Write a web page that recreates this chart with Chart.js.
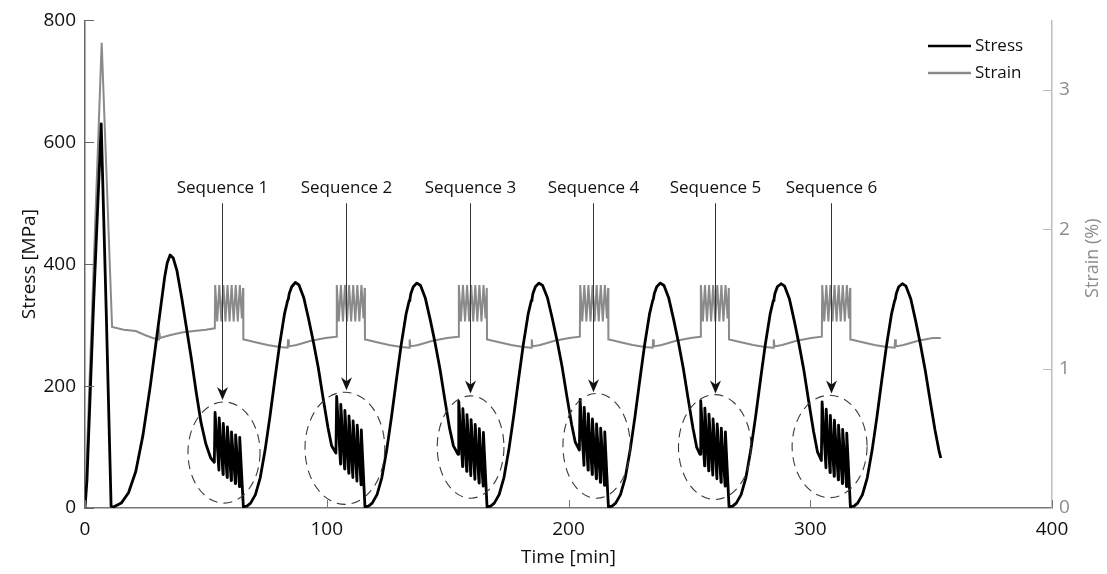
<!DOCTYPE html>
<html>
<head>
<meta charset="utf-8">
<title>Stress and strain vs time</title>
<script src="https://cdn.jsdelivr.net/npm/chart.js@4.4.1/dist/chart.umd.min.js"></script>
<style>
  html, body { margin: 0; padding: 0; background: #fff; }
  #wrap { width: 1107px; height: 574px; }
</style>
</head>
<body>
<div id="wrap"><canvas id="stressChart" width="1107" height="574"></canvas></div>
<script>
// ---- data: [time (min), value] ----
const stressPoints = [
    // first loading spike
    [0, 0], [0.8, 45], [3.5, 330], [6.7, 630], [8.8, 320], [10.8, 3],
    // cycle before sequence 1
    [12, 2], [15, 8], [18, 25], [21, 60], [24, 120], [27, 200], [30, 290], [32, 350], [33, 380], [34, 402], [35.2, 415],
    [36.5, 410], [38, 390], [40, 345], [42, 295], [44, 245], [46, 190], [48, 140], [50, 105], [52, 82], [53.5, 75],
    // sequence 1
    [53.8, 157], [55.4, 62], [55.5, 148], [57.1, 55], [57.2, 139], [58.8, 50], [58.9, 133], [60.5, 45], [60.6, 125],
    [62.2, 40], [62.3, 120], [63.9, 35], [64.0, 116], [65.5, 2],
    [67, 3], [68.5, 8], [70.5, 22], [72.5, 50], [74.5, 95], [76.5, 150], [78.5, 210], [80.5, 268], [82.5, 318], [83.8, 340],
    [84.1, 343], [84.5, 352], [85.5, 363], [87, 370], [88.5, 366], [90.5, 345], [92.5, 310], [94.5, 272], [96.5, 230],
    [98.5, 180], [100.5, 132], [102, 102], [103.8, 90],
    // sequence 2
    [104.1, 183], [105.7, 72], [105.8, 170], [107.4, 64], [107.5, 160], [109.1, 57], [109.2, 151], [110.8, 50], [110.9, 143],
    [112.5, 44], [112.6, 136], [114.2, 38], [114.3, 128], [115.8, 2],
    [117.3, 3], [118.8, 8], [120.8, 22], [122.8, 50], [124.8, 95], [126.8, 150], [128.8, 210], [130.8, 268], [132.8, 318],
    [134.1, 340], [134.4, 343], [134.8, 352], [135.8, 363], [137.3, 369], [138.8, 365], [140.8, 344], [142.8, 309],
    [144.8, 271], [146.8, 229], [148.8, 179], [150.8, 131], [152.4, 102], [154.3, 88],
    // sequence 3
    [154.6, 175], [156.2, 68], [156.3, 163], [157.9, 60], [158.0, 153], [159.6, 53], [159.7, 145], [161.3, 47], [161.4, 137],
    [163.0, 41], [163.1, 130], [164.7, 36], [164.8, 124], [166.3, 2],
    [167.8, 3], [169.3, 8], [171.3, 22], [173.3, 50], [175.3, 95], [177.3, 150], [179.3, 210], [181.3, 268], [183.3, 318],
    [184.6, 340], [184.9, 343], [185.3, 352], [186.3, 363], [187.8, 369], [189.3, 365], [191.3, 345], [193.3, 311],
    [195.3, 274], [197.3, 233], [199.3, 184], [201.3, 137], [202.8, 108], [204.5, 95],
    // sequence 4
    [204.8, 178], [206.4, 70], [206.5, 165], [208.1, 62], [208.2, 155], [209.8, 55], [209.9, 146], [211.5, 48], [211.6, 138],
    [213.2, 42], [213.3, 131], [214.9, 37], [215.0, 125], [216.5, 2],
    [218, 3], [219.5, 8], [221.5, 22], [223.5, 50], [225.5, 95], [227.5, 150], [229.5, 210], [231.5, 268], [233.5, 318],
    [234.8, 340], [235.1, 343], [235.5, 352], [236.5, 363], [238, 369], [239.5, 365], [241.5, 344], [243.5, 309],
    [245.5, 271], [247.5, 229], [249.5, 179], [251.5, 131], [253, 100], [254.4, 88],
    // sequence 5
    [254.7, 176], [256.3, 69], [256.4, 164], [258.0, 61], [258.1, 154], [259.7, 54], [259.8, 146], [261.4, 48], [261.5, 138],
    [263.1, 42], [263.2, 131], [264.8, 36], [264.9, 125], [266.4, 2],
    [267.9, 3], [269.4, 8], [271.4, 22], [273.4, 50], [275.4, 95], [277.4, 150], [279.4, 210], [281.4, 268], [283.4, 318],
    [284.7, 340], [285, 343], [285.4, 352], [286.4, 363], [287.9, 368], [289.4, 364], [291.4, 343], [293.4, 307],
    [295.4, 268], [297.4, 225], [299.4, 174], [301.4, 125], [303, 92], [304.6, 78],
    // sequence 6
    [304.9, 174], [306.5, 66], [306.6, 162], [308.2, 58], [308.3, 152], [309.9, 52], [310.0, 144], [311.6, 46], [311.7, 136],
    [313.3, 40], [313.4, 129], [315.0, 35], [315.1, 123], [316.6, 2],
    [318.1, 3], [319.6, 8], [321.6, 22], [323.6, 50], [325.6, 95], [327.6, 150], [329.6, 210], [331.6, 268], [333.6, 318],
    [334.9, 340], [335.2, 343], [335.6, 352], [336.6, 363], [338.1, 368], [339.6, 364], [341.6, 343], [343.6, 307],
    [345.6, 268], [347.6, 225], [349.6, 176], [351.6, 128], [353.2, 95], [354, 82]
];

const strainPoints = [
    [0, 0], [6.9, 3.34], [11.2, 1.3], [16, 1.28], [21, 1.27], [25, 1.24], [28, 1.22], [30.6, 1.21], [30.8, 1.25], [31.1, 1.22],
    [35, 1.24], [40, 1.26], [45, 1.27], [50, 1.28], [53.7, 1.29],
    [53.85, 1.6], [54.7, 1.34], [55.55, 1.6], [56.4, 1.34], [57.25, 1.6], [58.1, 1.34], [58.95, 1.6], [59.8, 1.34],
    [60.65, 1.6], [61.5, 1.34], [62.35, 1.6], [63.2, 1.34], [64.05, 1.6], [64.9, 1.36], [65.4, 1.58], [65.5, 1.21],
    [65.8, 1.21], [70.5, 1.19], [75.5, 1.17], [80.5, 1.155], [83.8, 1.15], [84.0, 1.21], [84.3, 1.16], [87.5, 1.17],
    [93.5, 1.2], [99.5, 1.22], [104.0, 1.23],
    [104.15, 1.6], [105.0, 1.34], [105.85, 1.6], [106.7, 1.34], [107.55, 1.6], [108.4, 1.34], [109.25, 1.6], [110.1, 1.34],
    [110.95, 1.6], [111.8, 1.34], [112.65, 1.6], [113.5, 1.34], [114.35, 1.6], [115.2, 1.36], [115.7, 1.58], [115.8, 1.21],
    [116.1, 1.21], [120.8, 1.19], [125.8, 1.17], [130.8, 1.155], [134.1, 1.15], [134.3, 1.21], [134.6, 1.16], [137.8, 1.17],
    [143.8, 1.2], [149.8, 1.22], [154.5, 1.23],
    [154.65, 1.6], [155.5, 1.34], [156.35, 1.6], [157.2, 1.34], [158.05, 1.6], [158.9, 1.34], [159.75, 1.6], [160.6, 1.34],
    [161.45, 1.6], [162.3, 1.34], [163.15, 1.6], [164.0, 1.34], [164.85, 1.6], [165.7, 1.36], [166.2, 1.58], [166.3, 1.21],
    [166.6, 1.21], [171.3, 1.19], [176.3, 1.17], [181.3, 1.155], [184.6, 1.15], [184.8, 1.21], [185.1, 1.16], [188.3, 1.17],
    [194.3, 1.2], [200.3, 1.22], [204.7, 1.23],
    [204.85, 1.6], [205.7, 1.34], [206.55, 1.6], [207.4, 1.34], [208.25, 1.6], [209.1, 1.34], [209.95, 1.6], [210.8, 1.34],
    [211.65, 1.6], [212.5, 1.34], [213.35, 1.6], [214.2, 1.34], [215.05, 1.6], [215.9, 1.36], [216.4, 1.58], [216.5, 1.21],
    [216.8, 1.21], [221.5, 1.19], [226.5, 1.17], [231.5, 1.155], [234.8, 1.15], [235.0, 1.21], [235.3, 1.16], [238.5, 1.17],
    [244.5, 1.2], [250.5, 1.22], [254.6, 1.23],
    [254.75, 1.6], [255.6, 1.34], [256.45, 1.6], [257.3, 1.34], [258.15, 1.6], [259.0, 1.34], [259.85, 1.6], [260.7, 1.34],
    [261.55, 1.6], [262.4, 1.34], [263.25, 1.6], [264.1, 1.34], [264.95, 1.6], [265.8, 1.36], [266.3, 1.58], [266.4, 1.21],
    [266.7, 1.21], [271.4, 1.19], [276.4, 1.17], [281.4, 1.155], [284.7, 1.15], [284.9, 1.21], [285.2, 1.16], [288.4, 1.17],
    [294.4, 1.2], [300.4, 1.22], [304.8, 1.23],
    [304.95, 1.6], [305.8, 1.34], [306.65, 1.6], [307.5, 1.34], [308.35, 1.6], [309.2, 1.34], [310.05, 1.6], [310.9, 1.34],
    [311.75, 1.6], [312.6, 1.34], [313.45, 1.6], [314.3, 1.34], [315.15, 1.6], [316.0, 1.36], [316.5, 1.58], [316.6, 1.21],
    [316.9, 1.21], [321.6, 1.19], [326.6, 1.17], [331.6, 1.155], [334.9, 1.15], [335.1, 1.21], [335.4, 1.16], [338.6, 1.17],
    [344.6, 1.2], [350.6, 1.22], [354, 1.22]
];

const timeTicks = [0, 100, 200, 300, 400];
const stressTicks = [0, 200, 400, 600, 800];
const strainTicks = [0, 1, 2, 3];

// sequence callouts: arrow time, arrow tip (MPa), ring centre (min, MPa), ring half axes (min, MPa)
const sequenceLabels = ["Sequence 1", "Sequence 2", "Sequence 3", "Sequence 4", "Sequence 5", "Sequence 6"];
const sequenceTimes = [56.7, 108.0, 159.2, 210.1, 260.5, 308.4];
const arrowTipStress = [177, 193, 188, 190, 188, 188];
const ringTime = [57.5, 107.5, 159.5, 211.6, 260.5, 308.0];
const ringStress = [91, 98, 100, 102, 100, 101];
const ringHalfTime = [14.9, 16.5, 13.8, 13.9, 15.0, 15.5];
const ringHalfStress = [83, 92, 84, 86, 86, 84];

const FONT = "'Open Sans', 'DejaVu Sans', sans-serif";
const STRESS_COLOR = "#000000";
const STRAIN_COLOR = "#8a8a8a";

function toXY(rows) {
    return rows.map(r => ({ x: r[0], y: r[1] }));
}

// inward ticks, callouts, legend and right-hand title
const overlayPlugin = {
    id: "overlay",
    afterDraw(chart) {
        const ctx = chart.ctx;
        const { x, y, y2 } = chart.scales;
        const area = chart.chartArea;
        ctx.save();

        // tick marks pointing into the plot
        ctx.lineWidth = 1;
        ctx.strokeStyle = "#777";
        timeTicks.forEach(v => {
            const px = Math.round(x.getPixelForValue(v)) + 0.5;
            ctx.beginPath(); ctx.moveTo(px, area.bottom); ctx.lineTo(px, area.bottom - 8); ctx.stroke();
        });
        ctx.strokeStyle = "#666";
        stressTicks.forEach(v => {
            const py = Math.round(y.getPixelForValue(v)) + 0.5;
            ctx.beginPath(); ctx.moveTo(area.left, py); ctx.lineTo(area.left + 9, py); ctx.stroke();
        });
        ctx.strokeStyle = "#bdbdbd";
        strainTicks.forEach(v => {
            const py = Math.round(y2.getPixelForValue(v)) + 0.5;
            ctx.beginPath(); ctx.moveTo(area.right, py); ctx.lineTo(area.right - 9, py); ctx.stroke();
        });

        // dashed rings round each sequence
        ctx.strokeStyle = "#3a3a3a";
        ctx.lineWidth = 1.1;
        ctx.setLineDash([9, 6]);
        ringTime.forEach((t, i) => {
            const cx = x.getPixelForValue(t);
            const cy = y.getPixelForValue(ringStress[i]);
            const rx = x.getPixelForValue(t + ringHalfTime[i]) - cx;
            const ry = cy - y.getPixelForValue(ringStress[i] + ringHalfStress[i]);
            ctx.beginPath();
            ctx.ellipse(cx, cy, rx, ry, 0, 0, Math.PI * 2);
            ctx.stroke();
        });
        ctx.setLineDash([]);

        // labels and arrows
        ctx.font = "17px " + FONT;
        ctx.textAlign = "center";
        ctx.textBaseline = "middle";
        sequenceTimes.forEach((t, i) => {
            const ax = Math.round(x.getPixelForValue(t)) + 0.5;
            const labelY = y.getPixelForValue(525);
            const topY = y.getPixelForValue(500);
            const tipY = y.getPixelForValue(arrowTipStress[i]);
            ctx.fillStyle = "#111";
            ctx.fillText(sequenceLabels[i], ax, labelY);
            ctx.strokeStyle = "#333";
            ctx.lineWidth = 1;
            ctx.beginPath(); ctx.moveTo(ax, topY); ctx.lineTo(ax, tipY - 8); ctx.stroke();
            ctx.fillStyle = "#111";
            ctx.beginPath();
            ctx.moveTo(ax, tipY);
            ctx.lineTo(ax - 5.5, tipY - 13);
            ctx.lineTo(ax, tipY - 9);
            ctx.lineTo(ax + 5.5, tipY - 13);
            ctx.closePath();
            ctx.fill();
        });

        // legend
        const legend = [["Stress", STRESS_COLOR, 46], ["Strain", STRAIN_COLOR, 73]];
        ctx.textAlign = "left";
        legend.forEach(([name, color, ly]) => {
            ctx.strokeStyle = color;
            ctx.lineWidth = 2.5;
            ctx.beginPath(); ctx.moveTo(928, ly); ctx.lineTo(971, ly); ctx.stroke();
            ctx.fillStyle = "#111";
            ctx.fillText(name, 975, ly);
        });

        // right axis title, reading bottom to top
        ctx.translate(area.right + 41, (area.top + area.bottom) / 2 - 6);
        ctx.rotate(-Math.PI / 2);
        ctx.textAlign = "center";
        ctx.fillStyle = "#8c8c8c";
        ctx.font = "18px " + FONT;
        ctx.fillText("Strain (%)", 0, 0);
        ctx.restore();
    }
};

document.addEventListener("DOMContentLoaded", function () {
    const ctx = document.getElementById("stressChart").getContext("2d");

    new Chart(ctx, {
        type: "line",
        data: {
            datasets: [
                {
                    label: "Stress",
                    data: toXY(stressPoints),
                    yAxisID: "y",
                    borderColor: STRESS_COLOR,
                    borderWidth: 2.8,
                    pointRadius: 0,
                    tension: 0,
                    borderJoinStyle: "round",
                    fill: false
                },
                {
                    label: "Strain",
                    data: toXY(strainPoints),
                    yAxisID: "y2",
                    borderColor: STRAIN_COLOR,
                    borderWidth: 2,
                    pointRadius: 0,
                    tension: 0,
                    fill: false
                }
            ]
        },
        options: {
            responsive: false,
            animation: false,
            devicePixelRatio: 1,
            layout: { padding: { top: 20, left: 0, right: 0, bottom: 0 } },
            plugins: {
                legend: { display: false },
                tooltip: { enabled: false }
            },
            scales: {
                x: {
                    type: "linear",
                    min: 0,
                    max: 400,
                    afterBuildTicks: axis => { axis.ticks = timeTicks.map(v => ({ value: v })); },
                    afterFit: axis => { axis.height = 66; },
                    grid: { display: false, drawTicks: false },
                    border: { color: "#777", width: 1.5 },
                    ticks: { padding: 10, color: "#111", maxRotation: 0, font: { family: FONT, size: 19 } },
                    title: { display: true, text: "Time [min]", color: "#111", padding: { top: 0, bottom: 5 }, font: { family: FONT, size: 19 } }
                },
                y: {
                    position: "left",
                    min: 0,
                    max: 800,
                    afterBuildTicks: axis => { axis.ticks = stressTicks.map(v => ({ value: v })); },
                    afterFit: axis => { axis.width = 85; },
                    grid: { display: false, drawTicks: false },
                    border: { color: "#666", width: 1.5 },
                    ticks: { padding: 9, color: "#111", font: { family: FONT, size: 19 } },
                    title: { display: true, text: "Stress [MPa]", color: "#111", padding: { top: 18, bottom: 0 }, font: { family: FONT, size: 19 } }
                },
                y2: {
                    position: "right",
                    min: 0,
                    max: 3.5,
                    afterBuildTicks: axis => { axis.ticks = strainTicks.map(v => ({ value: v })); },
                    afterFit: axis => { axis.width = 55; },
                    grid: { display: false, drawTicks: false },
                    border: { color: "#bdbdbd", width: 1.5 },
                    ticks: { padding: 7, color: "#8c8c8c", font: { family: FONT, size: 19 } }
                }
            }
        },
        plugins: [overlayPlugin]
    });
});
</script>
</body>
</html>
